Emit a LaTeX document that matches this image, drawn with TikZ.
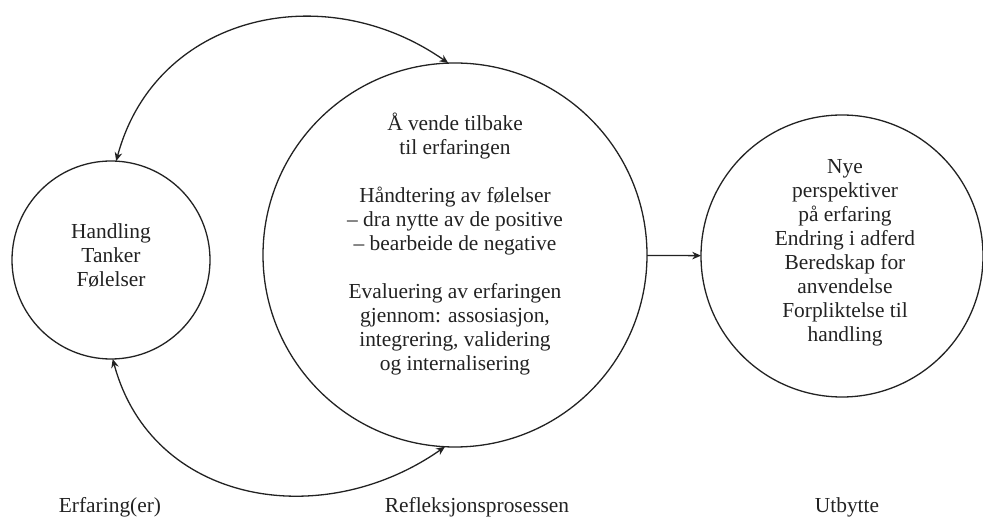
\documentclass[tikz,border=0pt]{standalone}
\usepackage{fontspec}
\setmainfont{Liberation Serif}
\usetikzlibrary{arrows.meta}
\definecolor{ink}{RGB}{34,34,34}
\begin{document}
\begin{tikzpicture}[x=0.5pt,y=0.5pt,
  ring/.style={draw=ink, line width=0.65pt, circle, inner sep=0pt, outer sep=0pt},
  txt/.style={text=ink, align=center, font=\fontsize{10.7pt}{12pt}\selectfont, inner sep=0pt},
  link/.style={draw=ink, line width=0.65pt, {Stealth[length=4.4pt,width=3.8pt]}-{Stealth[length=4.4pt,width=3.8pt]}},
  arr/.style={draw=ink, line width=0.65pt, -{Stealth[length=4.4pt,width=3.8pt]}}]
\useasboundingbox (0,0) rectangle (983,-517);
\node[ring, minimum size=99pt] (L) at (111,-260) {};
\node[ring, minimum size=192pt] (M) at (455,-255) {};
\node[ring, minimum size=141pt] (R) at (842,-256) {};
\node[txt] (Lt) at (111,-256) {Handling\\Tanker\\Følelser};
\node[txt] (Mt) at (455,-244) {Å vende tilbake\\til erfaringen\\[12pt]Håndtering av følelser\\– dra nytte av de positive\\– bearbeide de negative\\[12pt]Evaluering av erfaringen\\gjennom: assosiasjon,\\integrering, validering\\og internalisering};
\node[txt] (Rt) at (845,-253) {Nye\\perspektiver\\på erfaring\\Endring i adferd\\Beredskap for\\anvendelse\\Forpliktelse til\\handling};
\node[txt] (Lb) at (110,-507) {Erfaring(er)};
\node[txt] (Mb) at (477,-507) {Refleksjonsprosessen};
\node[txt] (Rb) at (847,-507) {Utbytte};
\draw[link] (L.87) to[out=75, in=145, looseness=1.12] (M.92);
\draw[link] (L.-89) to[out=-75, in=-145, looseness=1.12] (M.-93);
\draw[arr] (M) -- (R);
\end{tikzpicture}
\end{document}
